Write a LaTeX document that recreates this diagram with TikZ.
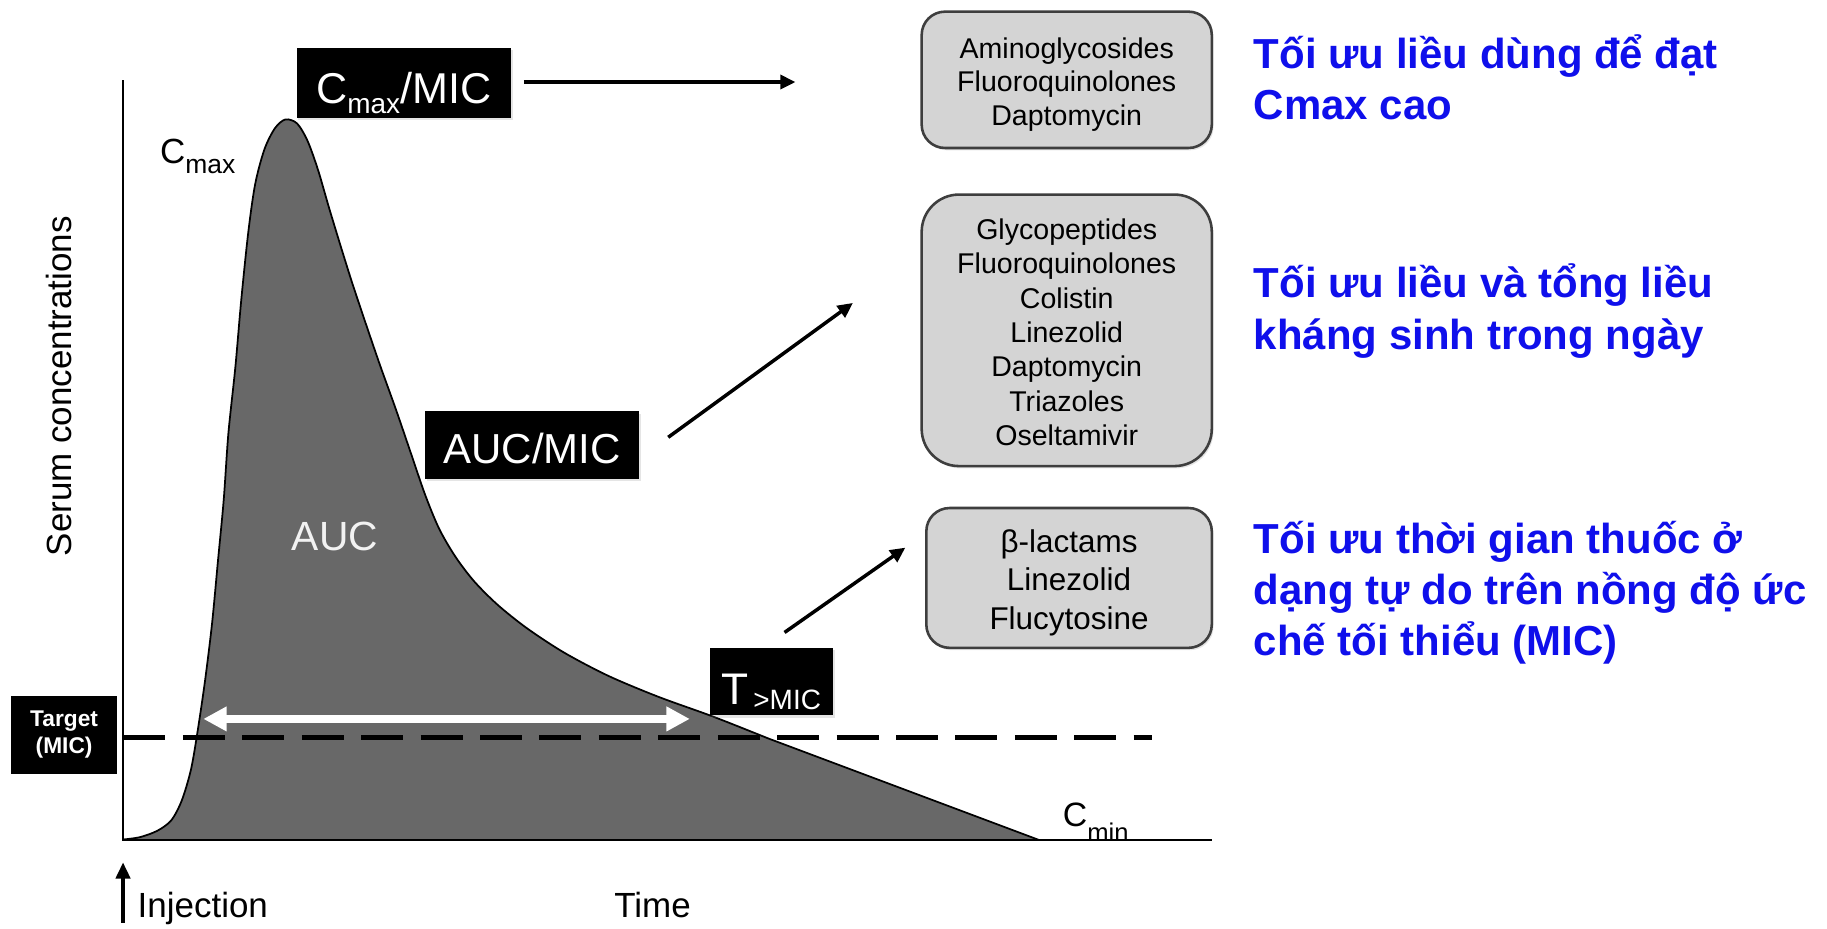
\documentclass[tikz,border=0pt]{standalone}
\usepackage{fontspec}
\setmainfont{Liberation Sans}
\usetikzlibrary{arrows.meta,shadows}
\definecolor{aucgray}{RGB}{104,104,104}
\definecolor{boxfill}{RGB}{212,212,212}
\definecolor{boxline}{RGB}{62,62,62}
\definecolor{vblue}{RGB}{15,15,235}
\newcommand{\fsz}[1]{\fontsize{#1}{#1}\selectfont}
\newcommand{\drugtext}[1]{\raisebox{0pt}[\dimexpr\height+9pt\relax][\depth]{\begin{tabular}{@{}c@{}}#1\end{tabular}}}
\begin{document}
\begin{tikzpicture}[x=1pt,y=-1pt,
  lbl/.style={fill=black,text=white,inner sep=0pt,text depth=0pt,
    drop shadow={shadow xshift=1.5pt,shadow yshift=-2pt,opacity=0.2}},
  drug/.style={draw=boxline,line width=2.2pt,fill=boxfill,inner sep=0pt,
    drop shadow={shadow xshift=1.5pt,shadow yshift=-2pt,opacity=0.2}},
  arr/.style={line width=3pt,-{Triangle[length=13pt,width=12pt]}},
  note/.style={text=vblue,font=\fsz{36}\bfseries,anchor=base west,inner sep=0pt},
  axisline/.style={line width=1.7pt},
  plain/.style={inner sep=0pt,anchor=base west},
]
\fill[white] (0,0) rectangle (1568,797);
\useasboundingbox (0,0) rectangle (1568,797);

\def\curvelist{(105.5,720.5) (120,718.5) (135,713) (147,704) (156,687) (164,660) (170,625) (176,584) (182,535) (187,482) (192,429) (196,372) (202,315) (207,258) (213,200) (219,158) (227,128) (236,110) (245,102.5) (255,106) (264,121) (273,146) (282,177) (292,210) (302,242) (313,275) (326,313) (340,352) (353,390) (365,425) (377,454) (391,478) (407,499) (427,519) (452,539) (484,560) (522,580) (565,598) (612,615) (660,634)}
% AUC area
\fill[aucgray] plot[smooth] coordinates {\curvelist} -- (892,721) -- (105.5,721) -- cycle;
\draw[line width=1.5pt] plot[smooth] coordinates {\curvelist} -- (892,721);

% axes
\coordinate (ytop) at (105.5,69);
\coordinate (O) at (105.5,721);
\coordinate (xend) at (1040,721);
\draw[axisline] (ytop) -- (O) -- (xend);

% MIC dashed line
\coordinate (micL) at (106,633);
\coordinate (micR) at (989,633);
\draw[line width=4.6pt,dash pattern=on 36pt off 15pt] (micL) -- (micR);

% T>MIC double arrow
\coordinate (tL) at (174.5,617);
\coordinate (tR) at (592,617);
\draw[white,line width=7pt,{Triangle[length=20pt,width=20pt]}-{Triangle[length=20pt,width=20pt]}] (tL) -- (tR);

% labels on graph
\node[text=white!95!black,font=\fsz{35}] (auc) at (287.5,460.5) {AUC};
\node[plain,font=\fsz{30}] (cmaxlbl) at (137.3,140.2) {C{\fsz{22.7}\raisebox{-9pt}{max}}};
\node[plain,font=\fsz{29}] (cminlbl) at (912,709.5) {C{\fsz{22}\raisebox{-12.5pt}{min}}};
\node[anchor=base,rotate=90,inner sep=0pt,font=\fsz{30}] (ylab) at (61,331.5) {Serum concentrations};
\node[plain,font=\fsz{30}] (inj) at (118,787) {Injection};
\node[anchor=base,inner sep=0pt,font=\fsz{30}] (time) at (560,787) {Time};
\coordinate (injB) at (105.6,792);
\coordinate (injT) at (105.6,740);
\draw[line width=3.6pt,-{Triangle[length=14pt,width=12pt]}] (injB) -- (injT);

% black label boxes
\node[lbl,minimum width=184pt,minimum height=60pt,text height=36pt,font=\fsz{37}] (cmaxmic) at (346.5,71)
  {C{\fsz{24}\raisebox{-8pt}{max}}/MIC};
\node[lbl,minimum width=184pt,minimum height=58pt,text height=31pt,font=\fsz{36}] (aucmic) at (456.7,382) {AUC/MIC};
\node[lbl,minimum width=106pt,minimum height=58pt,text height=40pt,font=\fsz{38}] (tmic) at (662,585)
  {T{\fsz{24}\,\raisebox{-4pt}{>MIC}}};
\node[fill=black,text=white,inner sep=0pt,minimum width=91pt,minimum height=67pt,align=center,
  font=\fontsize{19.5}{23}\selectfont\bfseries] (target) at (55,630.5) {Target\\(MIC)};

% arrows from labels
\coordinate (a1s) at (449.7,70.4);
\coordinate (a1e) at (682.7,70.4);
\coordinate (a2s) at (573.5,375.3);
\coordinate (a2e) at (732,260);
\coordinate (a3s) at (673.3,542.8);
\coordinate (a3e) at (777,470);
\draw[arr] (a1s) -- (a1e);
\draw[arr] (a2s) -- (a2e);
\draw[arr] (a3s) -- (a3e);

% drug boxes
\node[drug,rounded corners=20pt,minimum width=249pt,minimum height=117pt,
  font=\fontsize{24.5}{28.8}\selectfont] (box1) at (915.5,68.5)
  {\drugtext{Aminoglycosides\\Fluoroquinolones\\Daptomycin}};
\node[drug,rounded corners=32pt,minimum width=249pt,minimum height=233pt,
  font=\fontsize{24.5}{29.5}\selectfont] (box2) at (915.5,283.5)
  {\drugtext{Glycopeptides\\Fluoroquinolones\\Colistin\\Linezolid\\Daptomycin\\Triazoles\\Oseltamivir}};
\node[drug,rounded corners=20pt,minimum width=245pt,minimum height=120pt,
  font=\fontsize{27}{32.8}\selectfont] (box3) at (917.5,496)
  {\drugtext{β-lactams\\Linezolid\\Flucytosine}};

% Vietnamese notes
\node[note] (n1a) at (1076,59) {Tối ưu liều dùng để đạt};
\node[note] (n1b) at (1076,102.5) {Cmax cao};
\node[note] (n2a) at (1076,255.5) {Tối ưu liều và tổng liều};
\node[note] (n2b) at (1076,300) {kháng sinh trong ngày};
\node[note] (n3a) at (1076,475) {Tối ưu thời gian thuốc ở};
\node[note] (n3b) at (1076,519) {dạng tự do trên nồng độ ức};
\node[note] (n3c) at (1076,562.5) {chế tối thiểu (MIC)};
\end{tikzpicture}
\end{document}
